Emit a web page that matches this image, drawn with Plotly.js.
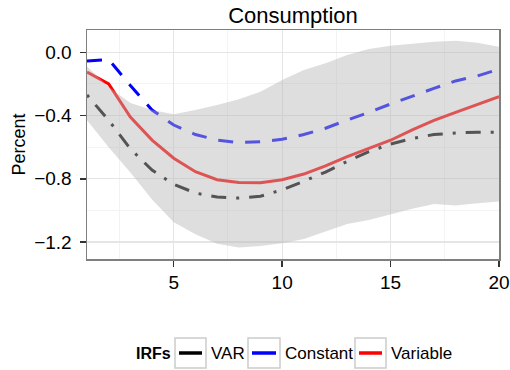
<!DOCTYPE html>
<html>
<head>
<meta charset="utf-8">
<script src="https://cdn.plot.ly/plotly-3.0.1.min.js"></script>
<style>
  html, body { margin: 0; padding: 0; background: #ffffff; }
  #chart { width: 510px; height: 370px; }
</style>
</head>
<body>
<div id="chart"></div>
<script>
// Impulse responses of consumption (percent) over 20 horizons
const horizon = [1, 2, 3, 4, 5, 6, 7, 8, 9, 10, 11, 12, 13, 14, 15, 16, 17, 18, 19, 20];
const varIrf = [-0.27, -0.43, -0.61, -0.745, -0.835, -0.89, -0.915, -0.922, -0.91, -0.87,
                -0.815, -0.757, -0.69, -0.628, -0.58, -0.545, -0.52, -0.51, -0.505, -0.505];
const constantIrf = [-0.055, -0.045, -0.21, -0.365, -0.46, -0.52, -0.555, -0.571, -0.565, -0.55,
                     -0.52, -0.48, -0.428, -0.38, -0.327, -0.276, -0.228, -0.181, -0.15, -0.107];
const variableIrf = [-0.125, -0.2, -0.41, -0.555, -0.67, -0.755, -0.806, -0.824, -0.825, -0.806,
                     -0.77, -0.718, -0.66, -0.61, -0.556, -0.49, -0.43, -0.38, -0.33, -0.28];
const bandUpper = [-0.09, -0.22, -0.32, -0.365, -0.392, -0.365, -0.333, -0.297, -0.249, -0.175,
                   -0.112, -0.07, -0.017, 0.021, 0.042, 0.056, 0.067, 0.073, 0.061, 0.035];
const bandLower = [-0.43, -0.6, -0.76, -0.93, -1.075, -1.15, -1.21, -1.235, -1.225, -1.207,
                   -1.18, -1.133, -1.085, -1.06, -1.024, -0.99, -0.96, -0.969, -0.954, -0.944];

const seriesNames = ['VAR', 'Constant', 'Variable'];
const seriesColors = ['#000000', '#0000ff', '#ff0000'];
const yTickVals = [0, -0.4, -0.8, -1.2];
const yTickText = ['0.0', '\u22120.4', '\u22120.8', '\u22121.2'];
const xTickVals = [5, 10, 15, 20];

const FONT = 'Liberation Sans, Arial, Helvetica, sans-serif';

// plotting-area geometry in pixels (used for the hand-built legend)
const W = 510, H = 370;
const M = { l: 87, r: 11, t: 30, b: 111 };
const pw = W - M.l - M.r, ph = H - M.t - M.b;
const px = x => (x - M.l) / pw;
const py = y => (H - M.b - y) / ph;

const traces = [
  { x: horizon, y: varIrf, mode: 'lines', name: seriesNames[0], showlegend: false,
    line: { color: seriesColors[0], width: 3, dash: '3px,10px,15px,10px' } },
  { x: horizon, y: constantIrf, mode: 'lines', name: seriesNames[1], showlegend: false,
    line: { color: seriesColors[1], width: 3, dash: '15px,12px' } },
  { x: horizon, y: variableIrf, mode: 'lines', name: seriesNames[2], showlegend: false,
    line: { color: seriesColors[2], width: 3 } },
  // confidence band, laid over the lines with transparency
  { x: horizon, y: bandUpper, mode: 'lines', showlegend: false, hoverinfo: 'skip',
    line: { width: 0, color: 'rgba(0,0,0,0)' } },
  { x: horizon, y: bandLower, mode: 'lines', showlegend: false, hoverinfo: 'skip',
    fill: 'tonexty', fillcolor: 'rgba(183,183,183,0.46)',
    line: { width: 0, color: 'rgba(0,0,0,0)' } }
];

// legend: keys in boxes, built from shapes and annotations
const legendKeys = [
  { box: [175, 206], text: 209 },
  { box: [248, 280], text: 283 },
  { box: [355, 386], text: 389 }
];
const legendY = [338, 368];
const legendMid = 353;

const shapes = [];
const annotations = [];
annotations.push({
  xref: 'paper', yref: 'paper', x: px(134), y: py(legendMid),
  xanchor: 'left', yanchor: 'middle', showarrow: false,
  text: '<b>IRFs</b>', font: { family: FONT, size: 16, color: '#000000' }
});
legendKeys.forEach((k, i) => {
  shapes.push({
    type: 'rect', xref: 'paper', yref: 'paper',
    x0: px(k.box[0]), x1: px(k.box[1]), y0: py(legendY[1]), y1: py(legendY[0]),
    line: { color: '#cccccc', width: 1.5 }, fillcolor: '#ffffff'
  });
  shapes.push({
    type: 'line', xref: 'paper', yref: 'paper',
    x0: px(k.box[0] + 4), x1: px(k.box[1] - 4), y0: py(legendMid), y1: py(legendMid),
    line: { color: seriesColors[i], width: 3.5 }
  });
  annotations.push({
    xref: 'paper', yref: 'paper', x: px(k.text), y: py(legendMid),
    xanchor: 'left', yanchor: 'middle', showarrow: false,
    text: seriesNames[i], font: { family: FONT, size: 17, color: '#000000' }
  });
});

const layout = {
  width: W, height: H,
  margin: M,
  paper_bgcolor: '#ffffff',
  plot_bgcolor: '#ffffff',
  font: { family: FONT, color: '#000000' },
  title: {
    text: 'Consumption', font: { family: FONT, size: 22, color: '#000000' },
    xref: 'paper', x: 0.5, xanchor: 'center',
    yref: 'container', y: 1 - 15.5 / H, yanchor: 'middle'
  },
  xaxis: {
    range: [1, 20], tickvals: xTickVals, ticktext: xTickVals.map(String),
    ticks: 'outside', ticklen: 6, tickwidth: 1.5, tickcolor: '#333333',
    tickfont: { family: FONT, size: 19, color: '#000000' },
    showgrid: true, gridcolor: '#e5e5e5', gridwidth: 1.2,
    minor: { tickvals: [2.5, 7.5, 12.5, 17.5], showgrid: true, gridcolor: '#f3f3f3', gridwidth: 1, ticks: '' },
    showline: true, mirror: true, linecolor: '#7f7f7f', linewidth: 1.5,
    zeroline: false, fixedrange: true
  },
  yaxis: {
    range: [-1.307, 0.141], tickvals: yTickVals, ticktext: yTickText,
    ticks: 'outside', ticklen: 6, tickwidth: 1.5, tickcolor: '#333333',
    ticklabelstandoff: 4,
    tickfont: { family: FONT, size: 19, color: '#000000' },
    showgrid: true, gridcolor: '#e5e5e5', gridwidth: 1.2,
    minor: { tickvals: [0.2, -0.2, -0.6, -1.0], showgrid: true, gridcolor: '#f3f3f3', gridwidth: 1, ticks: '' },
    showline: true, mirror: true, linecolor: '#7f7f7f', linewidth: 1.5,
    zeroline: false, fixedrange: true,
    title: { text: 'Percent', font: { family: FONT, size: 18, color: '#000000' }, standoff: 4 }
  },
  showlegend: false,
  shapes: shapes,
  annotations: annotations
};

Plotly.newPlot('chart', traces, layout, { displayModeBar: false, staticPlot: true });
</script>
</body>
</html>
